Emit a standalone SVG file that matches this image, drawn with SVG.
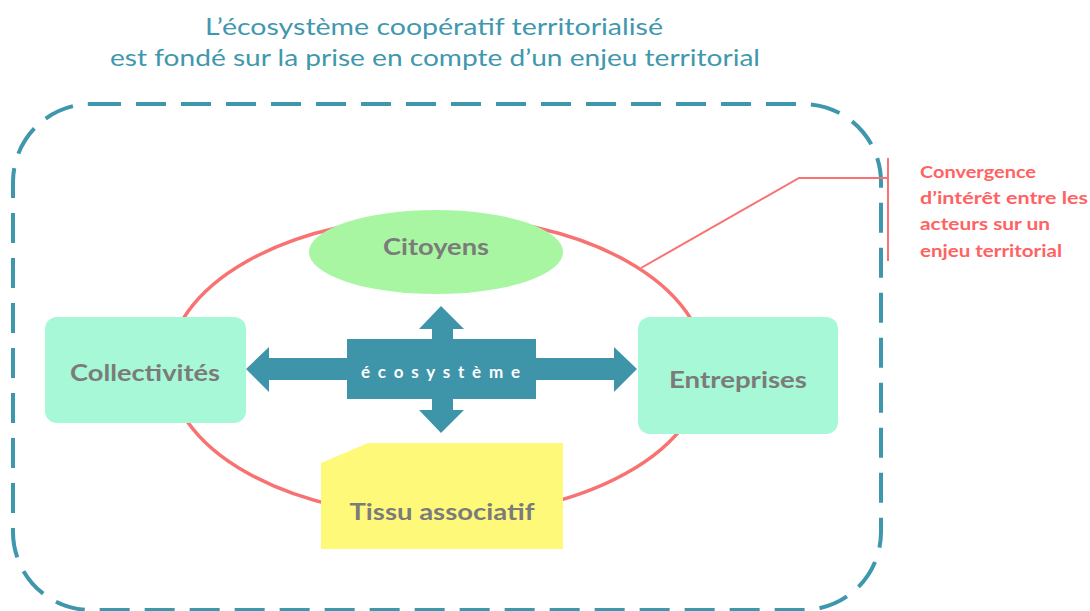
<svg xmlns="http://www.w3.org/2000/svg" width="1090" height="611" viewBox="0 0 1090 611">
<style>
.title{font-family:Lato,"Open Sans","Liberation Sans",sans-serif;font-size:24px;fill:#3f98ad;text-anchor:middle}
.lbl{font-family:Lato,"Open Sans","Liberation Sans",sans-serif;font-size:22px;font-weight:bold;fill:#7b7b7b;text-anchor:middle}
.call{font-family:Lato,"Open Sans","Liberation Sans",sans-serif;font-size:17px;font-weight:bold;fill:#ff6262}
.eco{font-family:Lato,"Open Sans","Liberation Sans",sans-serif;font-size:17px;font-weight:bold;fill:#ffffff}
.red{fill:none;stroke:#f87272}
</style>
<rect width="1090" height="611" fill="#ffffff"/>
<text class="title" x="434" y="35" textLength="458" lengthAdjust="spacingAndGlyphs">L’écosystème coopératif territorialisé</text>
<text class="title" x="435" y="66" textLength="650" lengthAdjust="spacingAndGlyphs">est fondé sur la prise en compte d’un enjeu territorial</text>
<g id="frame">
<rect x="13" y="104" width="868" height="506" rx="78" ry="78" fill="none" stroke="#3e97ac" stroke-width="4" stroke-dasharray="30 15"/>
</g>
<g id="connectors">
<ellipse cx="437" cy="367" rx="268" ry="150" class="red" stroke-width="3.5"/>
<polyline points="641,268 799,178 888,178" class="red" stroke-width="2"/>
<line x1="888" y1="158" x2="888" y2="261" class="red" stroke-width="2"/>
</g>
<g id="citoyens">
<ellipse cx="436" cy="252" rx="127" ry="42" fill="#a8f6a2"/>
<text class="lbl" x="436" y="255" textLength="106" lengthAdjust="spacingAndGlyphs">Citoyens</text>
</g>
<g id="collectivites">
<rect x="45" y="317" width="201" height="106" rx="12" fill="#a6f8d6"/>
<text class="lbl" x="145" y="381" textLength="150" lengthAdjust="spacingAndGlyphs">Collectivités</text>
</g>
<g id="entreprises">
<rect x="638" y="317" width="200" height="117" rx="12" fill="#a6f8d6"/>
<text class="lbl" x="738" y="388" textLength="138" lengthAdjust="spacingAndGlyphs">Entreprises</text>
</g>
<g id="tissu">
<polygon points="321,463 368,443 563,443 563,549 321,549" fill="#fff97a"/>
<text class="lbl" x="442" y="520" textLength="185" lengthAdjust="spacingAndGlyphs">Tissu associatif</text>
</g>
<g id="ecosysteme">
<polygon fill="#3e95aa" points="441,306 464,329 453,329 453,339 536,339 536,358 614,358 614,347 637,369 614,392 614,380 536,380 536,399 453,399 453,410 464,410 441,433 419,410 432,410 432,399 347,399 347,380 269,380 269,392 246,369 269,347 269,358 347,358 347,339 432,339 432,329 419,329"/>
<text class="eco" x="361" y="378" textLength="159" lengthAdjust="spacing">écosystème</text>
</g>
<g id="callout">
<text class="call" x="920" y="178" textLength="116" lengthAdjust="spacingAndGlyphs">Convergence</text>
<text class="call" x="920" y="204" textLength="168" lengthAdjust="spacingAndGlyphs">d’intérêt entre les</text>
<text class="call" x="920" y="230" textLength="130" lengthAdjust="spacingAndGlyphs">acteurs sur un</text>
<text class="call" x="920" y="257" textLength="142" lengthAdjust="spacingAndGlyphs">enjeu territorial</text>
</g>
</svg>
